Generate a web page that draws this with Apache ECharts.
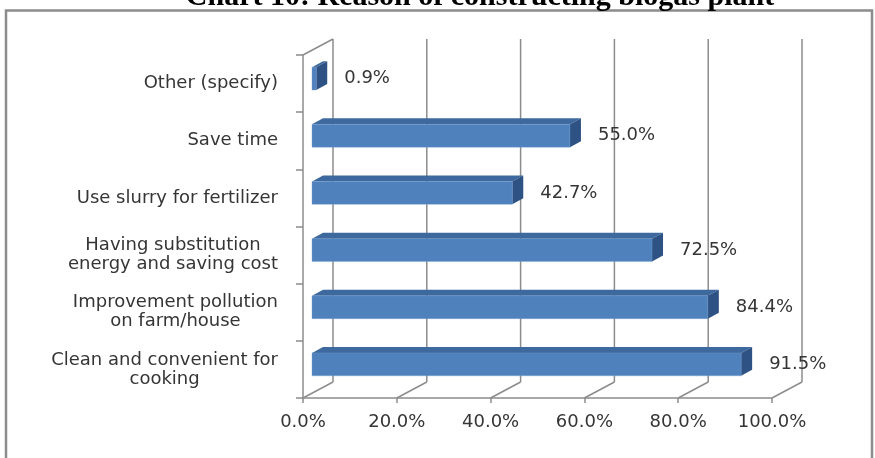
<!DOCTYPE html>
<html>
<head>
<meta charset="utf-8">
<script src="https://cdn.jsdelivr.net/npm/echarts@6/dist/echarts.min.js"></script>
<style>
  html, body { margin: 0; padding: 0; background: #ffffff; }
  #chart { width: 875px; height: 458px; }
</style>
</head>
<body>
<div id="chart"></div>
<script>
// Reasons given for building a biogas plant, listed from the bottom row upward
const categories = [
  'Clean and convenient for\ncooking',
  'Improvement pollution\non farm/house',
  'Having substitution\nenergy and saving cost',
  'Use slurry for fertilizer',
  'Save time',
  'Other (specify)'
];
const shares = [91.5, 84.4, 72.5, 42.7, 55.0, 0.9];
const percentTicks = [0, 20, 40, 60, 80, 100];
const chartTitle = 'Chart 10: Reason of constructing biogas plant';

const FONT = '"DejaVu Sans", sans-serif';
const TEXT_COLOR = '#353535';
const LINE_COLOR = '#8c8c8c';

// Perspective shift from the front plane to the back wall of the box
const DEPTH_X = 30, DEPTH_Y = -16;
// Bars sit part-way into the box and have their own thickness
const BAR_INSET_X = 9, BAR_INSET_Y = -5;
const BAR_DEPTH_X = 11, BAR_DEPTH_Y = -6;
const BAR_HEIGHT_RATIO = 0.4;
const LABEL_GAP = 37;

const FRONT = '#4f81bd';
const TOP = '#3e699e';
const SIDE = '#2e5284';

const chart = echarts.init(document.getElementById('chart'));

// Back-wall gridlines, floor lines and the top edge of the side wall
function renderBox(params, api) {
  const cs = params.coordSys;
  const x = api.coord([api.value(0), 0])[0];
  const top = cs.y, bottom = cs.y + cs.height;
  const style = { stroke: LINE_COLOR, lineWidth: 1.5, fill: null };
  const children = [
    { type: 'line', shape: { x1: x + DEPTH_X, y1: top + DEPTH_Y, x2: x + DEPTH_X, y2: bottom + DEPTH_Y }, style },
    { type: 'line', shape: { x1: x, y1: bottom, x2: x + DEPTH_X, y2: bottom + DEPTH_Y }, style }
  ];
  if (params.dataIndex === 0) {
    children.push({ type: 'line', shape: { x1: x, y1: top, x2: x + DEPTH_X, y2: top + DEPTH_Y }, style });
  }
  return { type: 'group', children };
}

// Box-shaped bar: front face, top face, end face and its value label
function renderBar(params, api) {
  const value = api.value(0);
  const idx = api.value(1);
  const start = api.coord([0, idx]);
  const end = api.coord([value, idx]);
  const band = api.size([0, 1])[1];
  const h = band * BAR_HEIGHT_RATIO;
  const x0 = start[0] + BAR_INSET_X;
  const x1 = end[0] + BAR_INSET_X;
  const y0 = start[1] + BAR_INSET_Y - h / 2;
  const y1 = y0 + h;
  return {
    type: 'group',
    children: [
      { type: 'polygon', shape: { points: [[x0, y0], [x1, y0], [x1 + BAR_DEPTH_X, y0 + BAR_DEPTH_Y], [x0 + BAR_DEPTH_X, y0 + BAR_DEPTH_Y]] },
        style: { fill: TOP } },
      { type: 'polygon', shape: { points: [[x1, y0], [x1 + BAR_DEPTH_X, y0 + BAR_DEPTH_Y], [x1 + BAR_DEPTH_X, y1 + BAR_DEPTH_Y], [x1, y1]] },
        style: { fill: SIDE } },
      { type: 'rect', shape: { x: x0, y: y0, width: x1 - x0, height: h },
        style: { fill: FRONT, stroke: 'rgba(120,160,210,0.6)', lineWidth: 0.6 } },
      { type: 'text', x: end[0] + LABEL_GAP, y: (y0 + y1) / 2,
        style: { text: value.toFixed(1) + '%', fill: TEXT_COLOR, font: '18px ' + FONT,
                 align: 'left', verticalAlign: 'middle', textAlign: 'left', textVerticalAlign: 'middle' } }
    ]
  };
}

const option = {
  backgroundColor: '#ffffff',
  animation: false,
  graphic: [
    { type: 'rect', shape: { x: 6, y: 10.5, width: 866, height: 470 },
      style: { fill: null, stroke: '#8c8c8c', lineWidth: 2.5 }, z: 0 },
    { type: 'text', x: 480, y: -3,
      style: { text: chartTitle, font: 'bold 30px "Liberation Serif", serif', fill: '#000000',
               align: 'center', verticalAlign: 'middle', textAlign: 'center', textVerticalAlign: 'middle' } }
  ],
  grid: { left: 303, right: 103, top: 55, bottom: 60, outerBoundsMode: 'none' },
  xAxis: {
    type: 'value',
    min: 0, max: 100, interval: 20,
    axisLine: { show: true, lineStyle: { color: LINE_COLOR, width: 1.5 } },
    axisTick: { show: true, length: 5, lineStyle: { color: LINE_COLOR, width: 1.5 } },
    splitLine: { show: false },
    axisLabel: {
      margin: 15,
      color: TEXT_COLOR, fontSize: 18, fontFamily: FONT,
      formatter: v => v.toFixed(1) + '%'
    }
  },
  yAxis: {
    type: 'category',
    data: categories,
    axisLine: { show: true, lineStyle: { color: LINE_COLOR, width: 1.5 } },
    axisTick: { show: true, length: 7, lineStyle: { color: LINE_COLOR, width: 1.5 } },
    splitLine: { show: false },
    axisLabel: {
      interval: 0,
      margin: 25,
      color: TEXT_COLOR, fontSize: 18, fontFamily: FONT, lineHeight: 19,
      formatter: v => v.split('\n').map(l => '{c|' + l + '}').join('\n'),
      rich: { c: { align: 'center', color: TEXT_COLOR, fontSize: 18, fontFamily: FONT, lineHeight: 19 } }
    }
  },
  series: [
    {
      type: 'custom',
      name: 'box',
      renderItem: renderBox,
      data: percentTicks.map(t => [t]),
      encode: { x: 0 },
      silent: true,
      z: 1
    },
    {
      type: 'custom',
      name: 'share',
      renderItem: renderBar,
      data: shares.map((v, i) => [v, i]),
      encode: { x: 0, y: 1 },
      z: 3
    }
  ]
};

chart.setOption(option);
</script>
</body>
</html>
